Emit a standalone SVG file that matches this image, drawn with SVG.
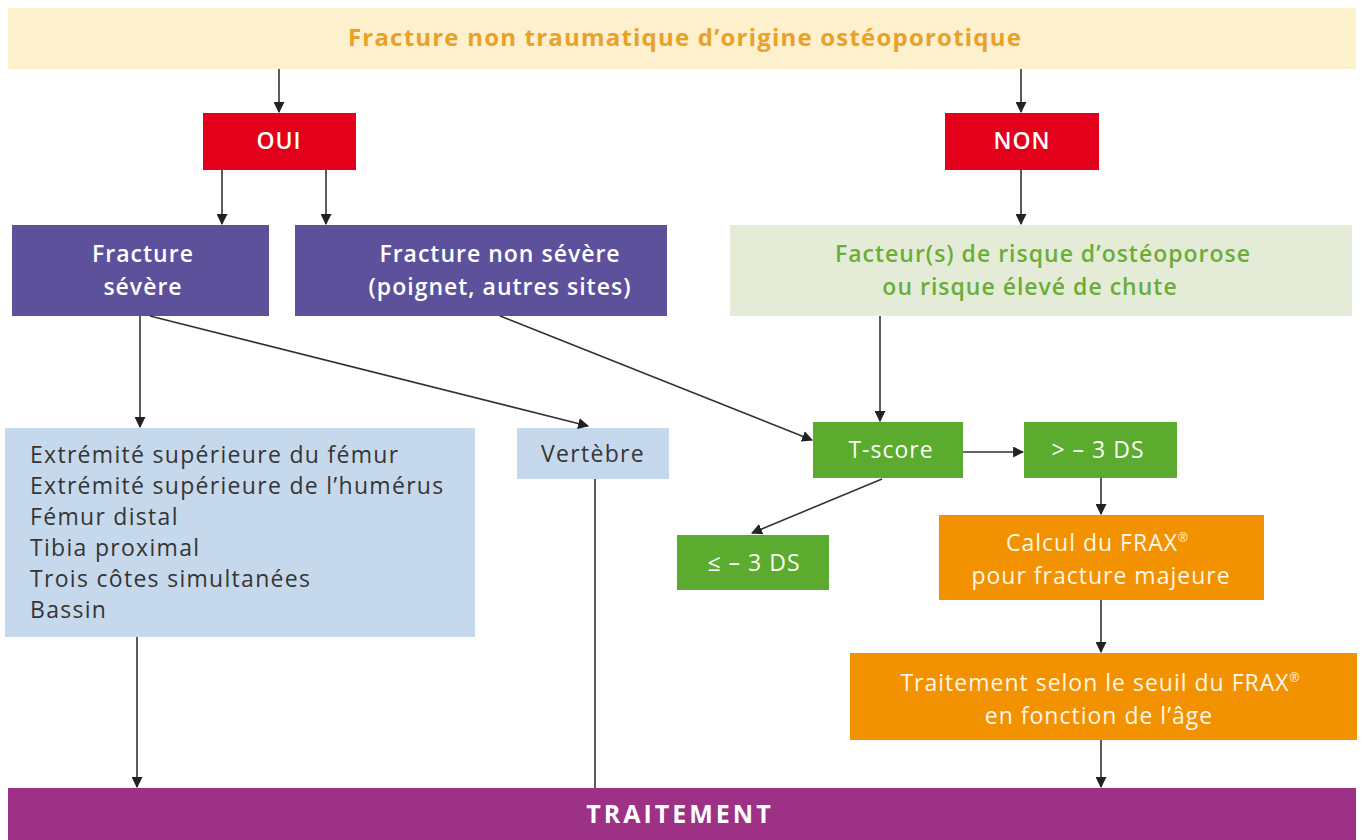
<svg xmlns="http://www.w3.org/2000/svg" width="1361" height="840" viewBox="0 0 1361 840">
<style>
text{font-family:"Open Sans","Liberation Sans",sans-serif;font-size:23px;letter-spacing:1px}
.w{fill:#fbfdf6;text-anchor:middle}
.o{fill:#fff6e6;text-anchor:middle}
.wb{fill:#fff;font-weight:600;text-anchor:middle}
.g{fill:#6cad38;font-weight:600;text-anchor:middle}
.d{fill:#353535;letter-spacing:1.3px}
.c{stroke:#333;stroke-width:1.6;fill:none}
.sup{font-size:12px;letter-spacing:0}
</style>
<defs>
<marker id="ah" viewBox="0 0 10 10" refX="9" refY="5" markerWidth="11" markerHeight="11" markerUnits="userSpaceOnUse" orient="auto">
<path d="M0,0 L10,5 L0,10 z" fill="#222"/>
</marker>
</defs>
<rect width="1361" height="840" fill="#fff"/>
<g id="n-top"><rect x="8" y="8" width="1348" height="61" fill="#fdf0cc"/>
<text x="685" y="46" style="font-size:24px;font-weight:bold;fill:#e9a12a;text-anchor:middle;letter-spacing:1.2px">Fracture non traumatique d’origine ostéoporotique</text></g>
<g id="n-oui"><rect x="203" y="113" width="153" height="57" fill="#e2001a"/><text class="wb" x="279" y="149">OUI</text></g>
<g id="n-non"><rect x="945" y="113" width="154" height="57" fill="#e2001a"/><text class="wb" x="1022" y="149">NON</text></g>
<g id="n-sev"><rect x="12" y="225" width="257" height="91" fill="#5e519c"/><text class="wb" x="143" y="262">Fracture</text><text class="wb" x="143" y="295">sévère</text></g>
<g id="n-nonsev"><rect x="295" y="225" width="372" height="91" fill="#5e519c"/><text class="wb" x="500" y="262">Fracture non sévère</text><text class="wb" x="500" y="295">(poignet, autres sites)</text></g>
<g id="n-risk"><rect x="730" y="225" width="622" height="91" fill="#e4ecd8"/><text class="g" x="1043" y="262">Facteur(s) de risque d’ostéoporose</text><text class="g" x="1030" y="295">ou risque élevé de chute</text></g>
<g id="n-sites"><rect x="5" y="428" width="470" height="209" fill="#c6d9ec"/>
<text class="d" x="30" y="463">Extrémité supérieure du fémur</text>
<text class="d" x="30" y="494">Extrémité supérieure de l’humérus</text>
<text class="d" x="30" y="525">Fémur distal</text>
<text class="d" x="30" y="556">Tibia proximal</text>
<text class="d" x="30" y="587">Trois côtes simultanées</text>
<text class="d" x="30" y="618">Bassin</text></g>
<g id="n-vert"><rect x="517" y="428" width="152" height="51" fill="#c6d9ec"/><text class="d" x="593" y="462" text-anchor="middle">Vertèbre</text></g>
<g id="n-tscore"><rect x="813" y="422" width="150" height="56" fill="#5aab2e"/><text class="w" x="891" y="458">T-score</text></g>
<g id="n-gt"><rect x="1024" y="422" width="153" height="56" fill="#5aab2e"/><text class="w" x="1098" y="458">&gt; – 3 DS</text></g>
<g id="n-le"><rect x="677" y="535" width="152" height="55" fill="#5aab2e"/><text class="w" x="754" y="571">≤ – 3 DS</text></g>
<g id="n-frax"><rect x="939" y="515" width="325" height="85" fill="#f39200"/><text class="o" x="1097" y="551">Calcul du FRAX<tspan class="sup" dy="-9">®</tspan></text><text class="o" x="1101" y="584">pour fracture majeure</text></g>
<g id="n-seuil"><rect x="850" y="653" width="507" height="87" fill="#f39200"/><text class="o" x="1100" y="691">Traitement selon le seuil du FRAX<tspan class="sup" dy="-9">®</tspan></text><text class="o" x="1099" y="724">en fonction de l’âge</text></g>
<g id="n-trait"><rect x="8" y="788" width="1348" height="52" fill="#9c3186"/><text x="680" y="823" style="fill:#fff;font-weight:bold;font-size:25px;letter-spacing:3px;text-anchor:middle">TRAITEMENT</text></g>
<g id="connectors">
<path class="c" d="M279,69 V112" marker-end="url(#ah)"/>
<path class="c" d="M1021,69 V112" marker-end="url(#ah)"/>
<path class="c" d="M222,170 V224" marker-end="url(#ah)"/>
<path class="c" d="M326,170 V224" marker-end="url(#ah)"/>
<path class="c" d="M1021,170 V224" marker-end="url(#ah)"/>
<path class="c" d="M140,316 V427" marker-end="url(#ah)"/>
<path class="c" d="M150,316 L588,426" marker-end="url(#ah)"/>
<path class="c" d="M500,316 L812,440" marker-end="url(#ah)"/>
<path class="c" d="M880,316 V421" marker-end="url(#ah)"/>
<path class="c" d="M963,452 H1023" marker-end="url(#ah)"/>
<path class="c" d="M882,479 L752,533" marker-end="url(#ah)"/>
<path class="c" d="M1101,478 V514" marker-end="url(#ah)"/>
<path class="c" d="M1101,600 V652" marker-end="url(#ah)"/>
<path class="c" d="M1101,740 V787" marker-end="url(#ah)"/>
<path class="c" d="M137,637 V787" marker-end="url(#ah)"/>
<path class="c" d="M595,479 V788"/>
</g>
</svg>
